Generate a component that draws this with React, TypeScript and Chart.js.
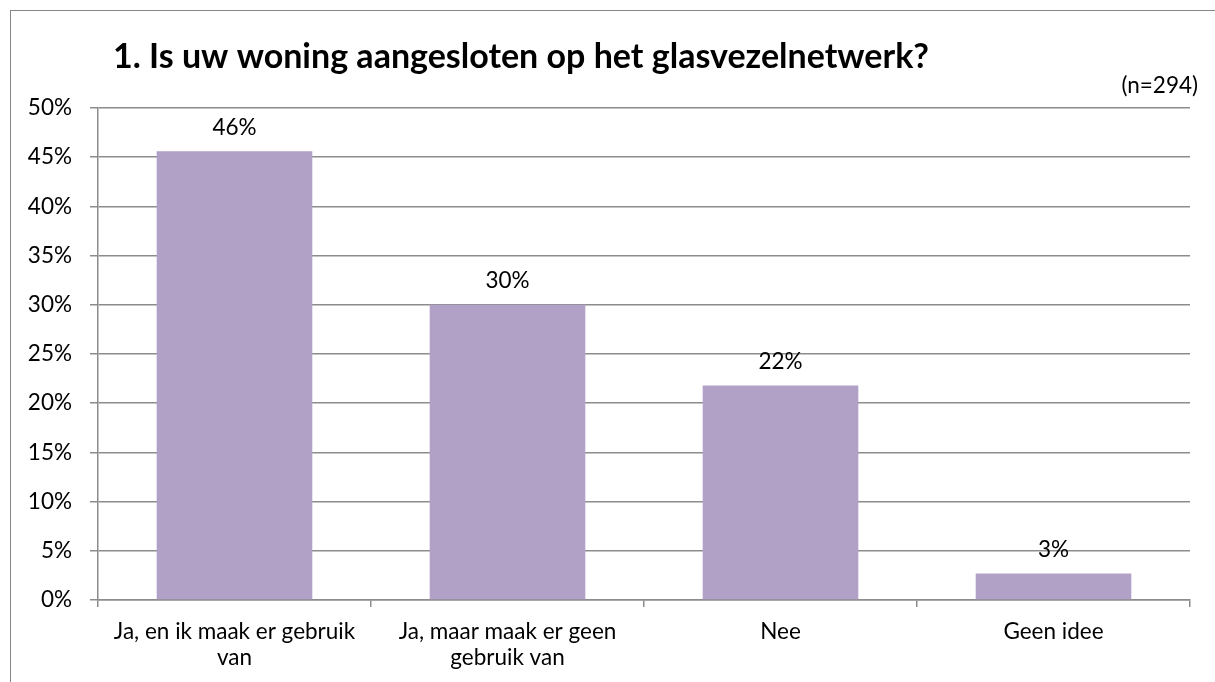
import React, { useEffect, useRef } from "react";
import { Chart, registerables } from "chart.js";

Chart.register(...registerables);

const categories: (string | string[])[] = [
  ["Ja, en ik maak er gebruik", "van"],
  ["Ja, maar maak er geen", "gebruik van"],
  "Nee",
  "Geen idee",
];
const values: number[] = [45.6, 30.0, 21.8, 2.7];
const valueLabels: string[] = ["46%", "30%", "22%", "3%"];
const yTicks: number[] = [0, 5, 10, 15, 20, 25, 30, 35, 40, 45, 50];
const titleText = "1. Is uw woning aangesloten op het glasvezelnetwerk?";
const subText = "(n=294)";

const FONT = "Lato, 'Open Sans', sans-serif";
const GRID = "#8c8c8c";

export default function App() {
  const ref = useRef<HTMLCanvasElement | null>(null);

  useEffect(() => {
    if (!ref.current) return;
    const textPlugin = {
      id: "texts",
      afterDraw(chart: any) {
        const ctx = chart.ctx;
        ctx.save();
        ctx.fillStyle = "#000";
        ctx.font = `bold 34px ${FONT}`;
        ctx.textAlign = "center";
        ctx.textBaseline = "middle";
        ctx.fillText(titleText, 521, 57);
        ctx.font = `22.5px ${FONT}`;
        ctx.textAlign = "right";
        ctx.fillText(subText, 1198, 86);
        const meta = chart.getDatasetMeta(0);
        ctx.textAlign = "center";
        meta.data.forEach((bar: any, i: number) => {
          ctx.fillText(valueLabels[i], bar.x, bar.y - 24);
        });
        ctx.restore();
      },
    };
    const chart = new Chart(ref.current, {
      type: "bar",
      data: {
        labels: categories,
        datasets: [
          {
            data: values,
            backgroundColor: "#B2A1C7",
            categoryPercentage: 0.57,
            barPercentage: 1,
          },
        ],
      },
      options: {
        animation: false,
        responsive: false,
        maintainAspectRatio: false,
        layout: { padding: { left: 0, right: 25, top: 108, bottom: 0 } },
        plugins: {
          legend: { display: false },
          title: { display: false },
          tooltip: { enabled: false },
        },
        scales: {
          x: {
            grid: {
              display: true,
              drawOnChartArea: false,
              drawTicks: true,
              tickLength: 7,
              color: GRID,
              lineWidth: 1.5,
              offset: true,
            },
            border: { display: true, color: GRID, width: 1.5 },
            ticks: {
              color: "#000",
              font: { family: FONT, size: 22.5, lineHeight: 1.15 },
              padding: 12,
              maxRotation: 0,
              autoSkip: false,
            },
            afterFit(scale: any) {
              scale.height = 82;
            },
          },
          y: {
            min: 0,
            max: 50,
            afterBuildTicks(scale: any) {
              scale.ticks = yTicks.map((v) => ({ value: v }));
            },
            grid: {
              color: GRID,
              lineWidth: 1.5,
              tickLength: 8,
              drawTicks: true,
            },
            border: { display: true, color: GRID, width: 1.5 },
            ticks: {
              color: "#000",
              font: { family: FONT, size: 22.5 },
              padding: 18,
              callback: (v: any) => `${v}%`,
            },
            afterFit(scale: any) {
              scale.width = 98;
            },
          },
        },
      },
      plugins: [textPlugin],
    });
    return () => chart.destroy();
  }, []);

  return (
    <div style={{ position: "fixed", left: 0, top: 0, width: 1215, height: 682, background: "#fff", overflow: "hidden" }}>
      <div
        style={{
          position: "absolute",
          left: 10,
          top: 10,
          width: 1300,
          height: 800,
          borderTop: "1px solid #868686",
          borderLeft: "1px solid #868686",
        }}
      />
      <canvas ref={ref} width={1215} height={682} style={{ position: "absolute", left: 0, top: 0, display: "block" }} />
    </div>
  );
}
